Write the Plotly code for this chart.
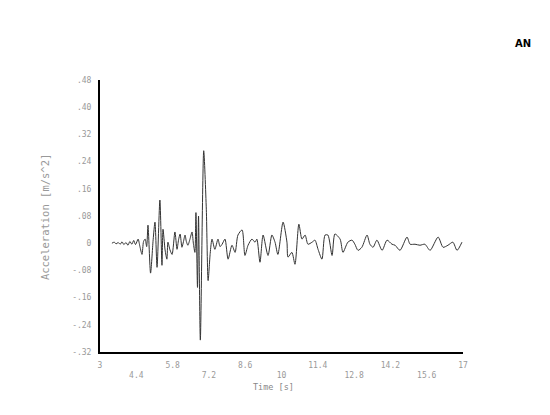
import plotly.graph_objects as go

time_s = [3.46, 3.55, 3.62, 3.70, 3.78, 3.85, 3.92, 4.00, 4.08, 4.15, 4.23, 4.30, 4.37, 4.47,
          4.54, 4.62, 4.68, 4.74, 4.80, 4.85, 4.95, 5.05, 5.12, 5.20, 5.31, 5.39, 5.43, 5.51,
          5.58, 5.62, 5.70, 5.78, 5.89, 5.97, 6.03, 6.09, 6.16, 6.22, 6.28, 6.33, 6.39, 6.47,
          6.55, 6.60, 6.66, 6.70, 6.76, 6.80, 6.87, 7.00, 7.10, 7.17, 7.25, 7.32, 7.43, 7.55,
          7.63, 7.71, 7.82, 7.94, 8.09, 8.21, 8.32, 8.48, 8.59, 8.71, 8.86, 8.98, 9.05, 9.17,
          9.29, 9.48, 9.63, 9.75, 9.86, 10.06, 10.21, 10.25, 10.40, 10.52, 10.67, 10.79, 10.91,
          11.02, 11.18, 11.29, 11.41, 11.56, 11.68, 11.79, 11.95, 12.06, 12.26, 12.37, 12.56,
          12.72, 12.83, 12.95, 13.10, 13.30, 13.41, 13.53, 13.68, 13.88, 14.07, 14.26, 14.38,
          14.57, 14.84, 14.96, 15.15, 15.34, 15.53, 15.73, 16.04, 16.23, 16.42, 16.61, 16.77, 16.96]

accel = [0.000, 0.003, -0.002, 0.002, -0.003, 0.004, -0.004, 0.002, -0.006, 0.005, -0.003, 0.008, -0.004, 0.012,
         -0.010, -0.033, 0.005, 0.012, -0.010, 0.053, -0.088, 0.010, 0.062, -0.071, 0.127, -0.065, 0.041, -0.020,
         -0.047, 0.003, -0.020, -0.033, 0.033, -0.018, 0.010, 0.027, -0.012, 0.005, 0.024, 0.005, -0.006, 0.012,
         0.033, 0.000, -0.027, 0.090, -0.130, 0.080, -0.285, 0.272, 0.100, -0.110, -0.030, 0.012, -0.018, 0.012,
         -0.010, -0.003, 0.012, -0.047, -0.006, -0.027, 0.024, 0.039, -0.036, -0.006, 0.012, 0.003, 0.012, -0.056,
         0.024, -0.036, 0.024, 0.003, -0.033, 0.062, 0.003, -0.041, -0.027, -0.062, 0.056, 0.012, 0.024,
         -0.003, 0.003, 0.009, -0.018, -0.047, 0.024, 0.024, -0.036, 0.027, 0.012, -0.027, 0.003,
         0.009, -0.003, -0.021, -0.012, 0.024, -0.003, -0.012, 0.009, -0.021, 0.009, -0.003, -0.006,
         -0.021, 0.018, -0.003, -0.003, -0.006, -0.003, -0.021, 0.018, -0.012, -0.006, 0.003, -0.021, 0.003]

x_tickvals = [3, 4.4, 5.8, 7.2, 8.6, 10, 11.4, 12.8, 14.2, 15.6, 17]
x_ticktext = ["3", "<br>4.4", "5.8", "<br>7.2", "8.6", "<br>10", "11.4", "<br>12.8", "14.2", "<br>15.6", "17"]
y_tickvals = [-0.32, -0.24, -0.16, -0.08, 0, 0.08, 0.16, 0.24, 0.32, 0.40, 0.48]
y_ticktext = ["-.32", "-.24", "-.16", "-.08", "0", ".08", ".16", ".24", ".32", ".40", ".48"]

FONT = "DejaVu Sans Mono"

fig = go.Figure()
fig.add_trace(go.Scatter(x=time_s, y=accel, mode="lines",
                         line=dict(color="#333333", width=1, shape="spline", smoothing=0.7),
                         showlegend=False, hoverinfo="skip"))

fig.update_layout(
    width=550, height=415,
    margin=dict(l=92, r=95, t=72, b=71),
    paper_bgcolor="white", plot_bgcolor="white",
    font=dict(family=FONT, size=8, color="#999999"),
    xaxis=dict(range=[3, 17], tickvals=x_tickvals, ticktext=x_ticktext, showgrid=False,
               zeroline=False, showline=True, linecolor="black", linewidth=2,
               ticks="outside", ticklen=4, tickcolor="rgba(0,0,0,0)",
               tickfont=dict(family=FONT, size=8, color="#999999")),
    yaxis=dict(range=[-0.32, 0.48], tickvals=y_tickvals, ticktext=y_ticktext, showgrid=False,
               zeroline=False, showline=True, linecolor="black", linewidth=2,
               ticks="outside", ticklen=5, tickcolor="rgba(0,0,0,0)",
               tickfont=dict(family=FONT, size=8, color="#999999")),
    annotations=[
        dict(text="Time [s]", xref="paper", yref="paper", x=0.477, y=-0.128,
             showarrow=False, font=dict(family=FONT, size=8.5, color="#888888"),
             xanchor="center", yanchor="middle"),
        dict(text="Acceleration [m/s^2]", xref="paper", yref="paper", x=-0.1515, y=0.496,
             textangle=-90, showarrow=False, font=dict(family=FONT, size=10.5, color="#999999"),
             xanchor="center", yanchor="middle"),
        dict(text="<b>AN</b>", xref="paper", yref="paper", x=1.165, y=1.136,
             showarrow=False, font=dict(family="DejaVu Sans", size=10, color="black"),
             xanchor="center", yanchor="middle"),
    ],
)

fig.write_html("out.html")
